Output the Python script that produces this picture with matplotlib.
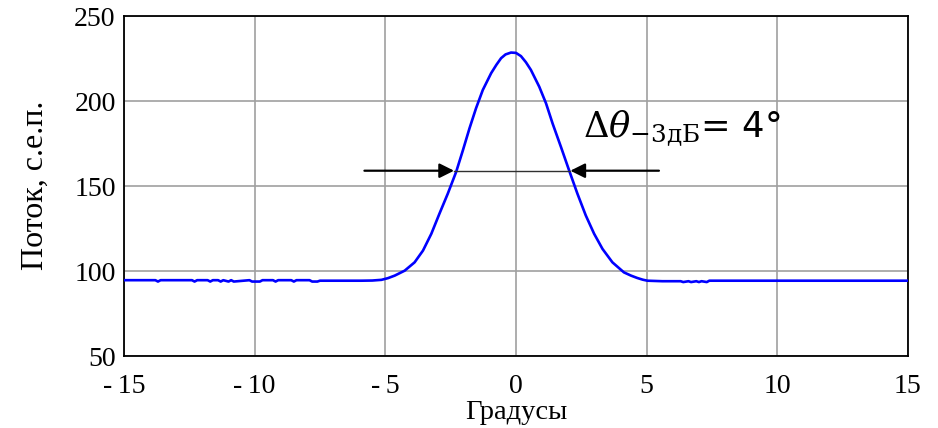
import matplotlib
matplotlib.use("Agg")
import matplotlib.pyplot as plt

# data: angle (degrees) vs flux
left_x = [-15.0, -13.8, -13.7, -13.6, -12.4, -12.3, -12.2, -11.8, -11.7, -11.6,
          -11.4, -11.3, -11.2, -11.0, -10.9, -10.8, -10.2, -10.1, -9.8, -9.7,
          -9.3, -9.2, -9.1, -8.6, -8.5, -8.4, -7.9, -7.8, -7.6, -7.5, -7.4]
left_y = [94.6, 94.6, 93.8, 94.6, 94.6, 93.8, 94.6, 94.6, 93.8, 94.6,
          94.6, 93.8, 94.6, 93.8, 94.6, 93.8, 94.6, 93.8, 93.8, 94.6,
          94.6, 93.8, 94.6, 94.6, 93.8, 94.6, 94.6, 93.8, 93.8, 94.3, 94.3]

peak_x = [-5.92, -5.5, -5.15, -4.9, -4.64, -4.26, -3.88, -3.56, -3.24, -2.93,
          -2.61, -2.29, -2.03, -1.78, -1.53, -1.27, -0.95, -0.75, -0.57, -0.4,
          -0.19, 0.0, 0.19, 0.38, 0.57, 0.89, 1.15, 1.40, 1.72, 2.03, 2.35,
          2.67, 2.99, 3.31, 3.69, 4.13, 4.4, 4.64, 4.85, 5.03]
peak_y = [94.3, 94.4, 94.8, 95.8, 97.3, 100.2, 105.1, 112.0, 121.9, 133.7,
          145.5, 158.3, 171.1, 183.9, 195.7, 206.5, 216.4, 221.3, 225.2, 227.4,
          228.5, 228.3, 226.4, 222.8, 218.3, 208.4, 198.6, 186.8, 173.0, 159.3, 145.5,
          132.7, 121.9, 113.0, 105.1, 99.2, 97.3, 95.9, 94.9, 94.3]

right_x = [5.6, 6.3, 6.4, 6.6, 6.7, 6.9, 7.0, 7.1, 7.3, 7.4, 15.0]
right_y = [94.0, 94.0, 93.5, 94.0, 93.5, 94.0, 93.5, 94.0, 93.5, 94.3, 94.3]

x = left_x + peak_x + right_x
y = left_y + peak_y + right_y

xticks = [-15, -10, -5, 0, 5, 10, 15]
yticks = [50, 100, 150, 200, 250]

arrow_level = 159
left_cross = -2.37
right_cross = 2.08

serif = ['Liberation Serif', 'DejaVu Serif']
plt.rcParams['mathtext.fontset'] = 'dejavuserif'

fig = plt.figure(figsize=(9.38, 4.28), dpi=100)
ax = fig.add_axes([0.1322, 0.1682, 0.8358, 0.7944])

ax.plot(x, y, color='#0000ff', lw=1.9, zorder=3, solid_joinstyle='round')

ax.set_xlim(-15, 15)
ax.set_ylim(50, 250)
ax.set_xticks(xticks)
ax.set_yticks(yticks)
ax.set_xticklabels([f"-\u2009{abs(t)}" if t < 0 else str(t) for t in xticks], family=serif, fontsize=20)
ax.set_yticklabels([str(t) for t in yticks], family=serif, fontsize=20)
ax.tick_params(axis='x', length=0, pad=13)
ax.tick_params(axis='y', length=0, pad=6)
ax.grid(True, color='#a0a0a0', lw=1.2)
for s in ax.spines.values():
    s.set_linewidth(1.3)

ax.set_xlabel('Градусы', family=serif, fontsize=20.5)
ax.set_ylabel('Поток, с.е.п.', family=serif, fontsize=23)
ax.xaxis.set_label_coords(0.5, -0.13)
ax.yaxis.set_label_coords(-0.094, 0.503)

# -3 dB width arrows
ax.plot([left_cross, right_cross], [arrow_level, arrow_level], color='#303030', lw=1.0, zorder=4)
ax.annotate('', xy=(left_cross, arrow_level), xytext=(-5.8, arrow_level),
            arrowprops=dict(arrowstyle='-|>', color='k', lw=1.6, mutation_scale=22,
                            shrinkA=0, shrinkB=0), zorder=5)
ax.annotate('', xy=(right_cross, arrow_level), xytext=(5.47, arrow_level),
            arrowprops=dict(arrowstyle='-|>', color='k', lw=1.6, mutation_scale=22,
                            shrinkA=0, shrinkB=0), zorder=5)

ax.text(2.55, 178.5, r'$\Delta\theta_{-\mathrm{3дБ}}$= 4°', fontsize=25.5,
        family=['DejaVu Sans'], va='baseline', ha='left', zorder=6)

fig.savefig('out.png', dpi=100)
